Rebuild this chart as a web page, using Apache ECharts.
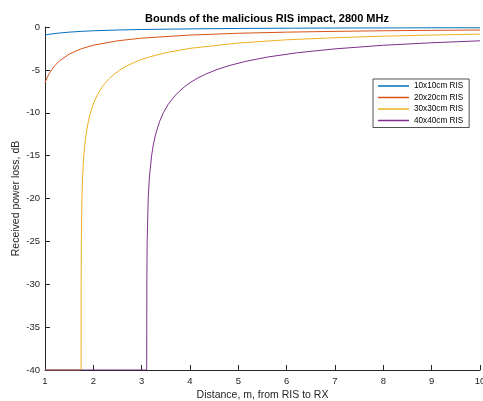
<!DOCTYPE html>
<html>
<head>
<meta charset="utf-8">
<script src="https://cdn.jsdelivr.net/npm/echarts@6/dist/echarts.min.js"></script>
<style>
html,body{margin:0;padding:0;background:#fff;}
#chart{width:483px;height:401px;}
</style>
</head>
<body>
<div id="chart"></div>
<script>
// Series names
var seriesNames = ['10x10cm RIS', '20x20cm RIS', '30x30cm RIS', '40x40cm RIS'];

// Distance (m) samples and received power loss (dB)
var dist10 = [1, 1.1, 1.25, 1.5, 1.75, 2, 2.5, 3, 4, 5, 6, 7, 8, 9, 10];
var loss10 = [-0.94, -0.84, -0.73, -0.60, -0.51, -0.44, -0.35, -0.29, -0.22, -0.17, -0.14, -0.12, -0.11, -0.09, -0.09];

var dist20 = [1, 1.05, 1.1, 1.2, 1.3, 1.5, 1.75, 2, 2.5, 3, 4, 5, 6, 7, 8, 9, 10];
var loss20 = [-6.50, -5.83, -5.31, -4.52, -3.95, -3.16, -2.54, -2.13, -1.61, -1.30, -0.94, -0.73, -0.60, -0.51, -0.44, -0.39, -0.35];

var dist30 = [1, 1.7462, 1.7478, 1.7515, 1.7636, 1.7776, 1.8030, 1.8229, 1.8500, 1.8967, 1.9400, 1.9975, 2.0749, 2.1813, 2.2496, 2.3316, 2.4312, 2.5535, 2.7062, 2.9008, 3.1555, 3.4992, 4, 5, 6, 7, 8, 9, 10];
var loss30 = [-40, -40, -30, -25, -20, -17.5, -15, -13.75, -12.5, -11, -10, -9, -8, -7, -6.5, -6, -5.5, -5, -4.5, -4, -3.5, -3, -2.49, -1.87, -1.49, -1.25, -1.07, -0.94, -0.83];

var dist40 = [1, 3.1043, 3.1071, 3.1139, 3.1354, 3.1602, 3.2054, 3.2406, 3.2889, 3.3718, 3.4489, 3.5511, 3.6887, 3.8779, 3.9993, 4.1451, 4.3222, 4.5396, 4.8110, 5.1570, 5.6098, 6.2208, 7, 8, 9, 10];
var loss40 = [-40, -40, -30, -25, -20, -17.5, -15, -13.75, -12.5, -11, -10, -9, -8, -7, -6.5, -6, -5.5, -5, -4.5, -4, -3.5, -3, -2.55, -2.13, -1.84, -1.61];

var colors = ['#0072BD', '#D95319', '#EDB120', '#7E2F8E'];

function pairs(xs, ys) {
  var out = [];
  for (var i = 0; i < xs.length; i++) out.push([xs[i], ys[i]]);
  return out;
}

var dists = [dist10, dist20, dist30, dist40];
var losses = [loss10, loss20, loss30, loss40];

var FONT = '"Liberation Sans", Arial, Helvetica, sans-serif';
var AX = '#262626';

var series = seriesNames.map(function (n, i) {
  return {
    name: n,
    type: 'line',
    data: pairs(dists[i], losses[i]),
    symbol: 'none',
    showSymbol: false,
    lineStyle: { color: colors[i], width: 1 },
    itemStyle: { color: colors[i] },
    clip: true,
    z: 2 + i
  };
});

var chart = echarts.init(document.getElementById('chart'), null, { renderer: 'canvas' });
chart.setOption({
  animation: false,
  backgroundColor: '#ffffff',
  title: {
    text: 'Bounds of the malicious RIS impact, 2800 MHz',
    left: 262,
    textAlign: 'center',
    top: 8,
    textStyle: { fontFamily: FONT, fontSize: 11, fontWeight: 'bold', color: '#000' }
  },
  legend: {
    orient: 'vertical',
    left: 373,
    top: 79,
    data: seriesNames,
    icon: 'rect',
    itemWidth: 31,
    itemHeight: 1.5,
    itemGap: 1.5,
    padding: [2, 6, 2, 5],
    borderColor: AX,
    borderWidth: 0.8,
    backgroundColor: '#fff',
    textStyle: { fontFamily: FONT, fontSize: 8.2, color: '#000', lineHeight: 10 }
  },
  grid: { left: 45, right: 3, top: 27, bottom: 31, containLabel: false, outerBoundsMode: 'none' },
  xAxis: {
    type: 'value',
    min: 1,
    max: 10,
    interval: 1,
    name: 'Distance, m, from RIS to RX',
    nameLocation: 'middle',
    nameGap: 20,
    nameMoveOverlap: false,
    nameTextStyle: { fontFamily: FONT, fontSize: 10.5, color: AX },
    axisLine: { show: true, onZero: false, lineStyle: { color: AX, width: 1 } },
    axisTick: { show: true, inside: true, length: 5, lineStyle: { color: AX, width: 1 } },
    axisLabel: { fontFamily: FONT, fontSize: 9.5, color: AX, margin: 6, hideOverlap: false },
    splitLine: { show: false }
  },
  yAxis: {
    type: 'value',
    min: -40,
    max: 0,
    interval: 5,
    name: 'Received power loss, dB',
    nameLocation: 'middle',
    nameGap: 23,
    nameMoveOverlap: false,
    nameTextStyle: { fontFamily: FONT, fontSize: 10.5, color: AX },
    axisLine: { show: true, onZero: false, lineStyle: { color: AX, width: 1 } },
    axisTick: { show: true, inside: true, length: 5, lineStyle: { color: AX, width: 1 } },
    axisLabel: { fontFamily: FONT, fontSize: 9.5, color: AX, margin: 5 },
    splitLine: { show: false }
  },
  series: series
});
</script>
</body>
</html>
